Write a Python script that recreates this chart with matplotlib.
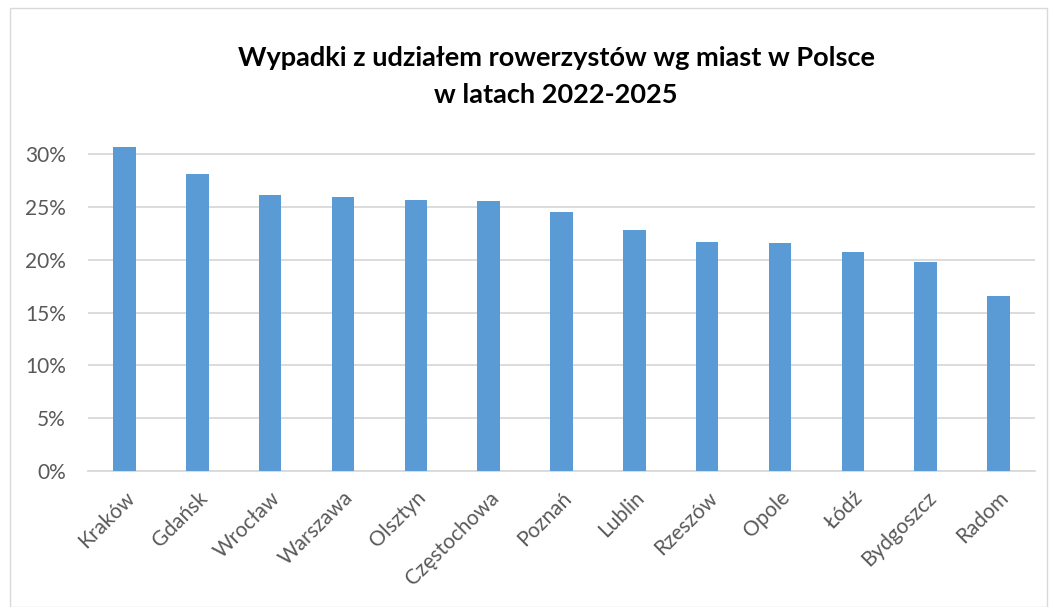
import matplotlib
matplotlib.use("Agg")
import matplotlib.pyplot as plt
from matplotlib.patches import Rectangle
from matplotlib.ticker import FuncFormatter

cities = ["Kraków", "Gdańsk", "Wrocław", "Warszawa", "Olsztyn", "Częstochowa",
          "Poznań", "Lublin", "Rzeszów", "Opole", "Łódź", "Bydgoszcz", "Radom"]
shares = [30.65, 28.1, 26.1, 25.9, 25.7, 25.6, 24.5, 22.8, 21.65, 21.55, 20.7, 19.8, 16.55]
yticks = [0, 5, 10, 15, 20, 25, 30]
title_lines = ["Wypadki z udziałem rowerzystów wg miast w Polsce", "w latach 2022-2025"]

plt.rcParams['font.family'] = ['Lato', 'DejaVu Sans']

W, H = 1057, 607
fig = plt.figure(figsize=(W / 100, H / 100), dpi=100)
fig.patches.append(Rectangle((10 / W, 0), (W - 20) / W, (H - 8) / H, transform=fig.transFigure,
                             fill=False, edgecolor="#d9d9d9", linewidth=1.0))

left, right = 88 / W, 1035 / W
bottom = 1 - 471 / H
top = 1 - 133 / H
ax = fig.add_axes([left, bottom, right - left, top - bottom])

x = range(len(cities))
ax.bar(x, shares, width=0.31, color="#5B9BD5", zorder=3)
ax.set_xlim(-0.5, len(cities) - 0.5)
ax.set_ylim(0, 32)
ax.set_yticks(yticks)
ax.yaxis.set_major_formatter(FuncFormatter(lambda v, p: f"{v:.0f}%"))
ax.grid(axis="y", color="#d9d9d9", linewidth=1.3, zorder=0)
for s in ["top", "right", "left"]:
    ax.spines[s].set_visible(False)
ax.spines["bottom"].set_color("#d9d9d9")
ax.spines["bottom"].set_linewidth(1.3)
ax.tick_params(axis="both", length=0, colors="#595959", labelsize=15)
ax.tick_params(axis="y", pad=16)
ax.set_xticks(list(x))
ax.set_xticklabels(cities, rotation=45, ha="right", rotation_mode="anchor")
ax.tick_params(axis="x", pad=12)

for line, ypix in zip(title_lines, [58, 95]):
    fig.text(556 / W, 1 - ypix / H, line, ha="center", va="center", fontsize=19.5,
             fontweight="bold", color="#000000")

fig.savefig("out.png", dpi=100)
